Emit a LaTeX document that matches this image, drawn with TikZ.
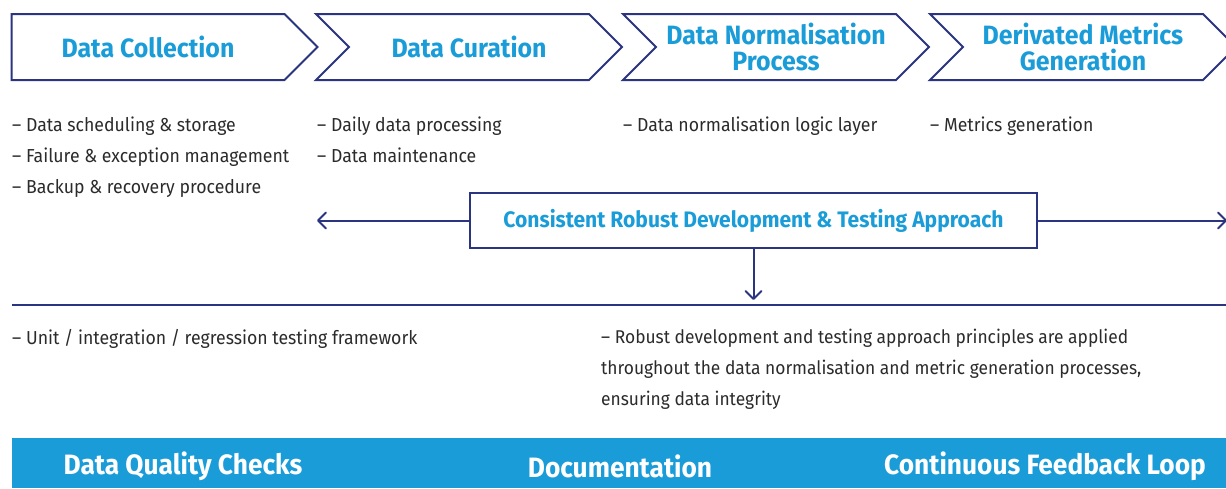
\documentclass[tikz,border=0pt]{standalone}
\usepackage{fontspec}
\setmainfont[FakeStretch=0.94]{Fira Sans}
\usepackage{tikz}
\usetikzlibrary{arrows,arrows.meta,shapes.symbols}
\definecolor{navy}{HTML}{2B3480}
\definecolor{sky}{HTML}{1A9CD8}
\definecolor{ink}{HTML}{2B2B2B}
\tikzset{
  stage/.style={draw=navy, line width=2pt, shape=signal, signal to=east, signal from=west,
    signal pointer angle=90, minimum width=306pt, minimum height=66pt, inner sep=0pt,
    text=sky, align=center, font=\bfseries\fontsize{26.5}{25.5}\selectfont},
  items/.style={anchor=north west, align=left, inner sep=0pt, text=ink, font=\fontsize{18.8}{31}\selectfont},
  banner/.style={text=white, font=\bfseries\fontsize{28}{30}\selectfont},
  link/.style={-{Straight Barb[length=8pt,width=16pt,line join=round,line cap=round]}, draw=navy, line width=2pt}
}
\begin{document}
\begin{tikzpicture}[x=1pt,y=-1pt]
          \useasboundingbox (0,0) rectangle (1226,488);
          \node[stage, signal from=nowhere] (Collection) at (148,47) {Data Collection};
          \node[stage] (Curation) at (469,47) {Data Curation};
          \node[stage] (Normalisation) at (776,47) {Data Normalisation\\Process};
          \node[stage] (Metrics) at (1083,47) {Derivated Metrics\\Generation};

          \node[items] (CollectionList) at (12,117) {-- Data scheduling \& storage\\-- Failure \& exception management\\-- Backup \& recovery procedure};
          \node[items] (CurationList) at (317,117) {-- Daily data processing\\-- Data maintenance};
          \node[items] (NormalisationList) at (623,117) {-- Data normalisation logic layer};
          \node[items] (MetricsList) at (930,117) {-- Metrics generation};

          \node[draw=navy, line width=2pt, minimum width=567pt, minimum height=55pt, text=sky,
            font=\bfseries\fontsize{22.4}{24}\selectfont] (Approach) at (753.5,220.5) {Consistent Robust Development \& Testing Approach};
          \coordinate (LeftEnd) at (317,220.5);
          \coordinate (RightEnd) at (1227,220.5);
          \coordinate (RuleTop) at (753.5,300);
          \coordinate (RuleLeft) at (12,305);
          \coordinate (RuleRight) at (1226,305);

          \draw[link] (Approach) to (LeftEnd);
          \draw[link] (Approach) to (RightEnd);
          \draw[link] (Approach) to (RuleTop);
          \draw[draw=navy, line width=2pt] (RuleLeft) to (RuleRight);

          \node[items] (Testing) at (12,329) {-- Unit / integration / regression testing framework};
          \node[items, font=\fontsize{18.5}{31}\selectfont] (Principles) at (601,329) {-- Robust development and testing approach principles are applied\\throughout the data normalisation and metric generation processes,\\ensuring data integrity};

          \node[fill=sky, anchor=north west, minimum width=1214pt, minimum height=50pt, inner sep=0pt] (Bar) at (12,438) {};
          \node[banner] (Quality) at (183,466) {Data Quality Checks};
          \node[banner] (Documentation) at (620,466) {Documentation};
          \node[banner] (Feedback) at (1045,466) {Continuous Feedback Loop};
        \end{tikzpicture}
\end{document}
